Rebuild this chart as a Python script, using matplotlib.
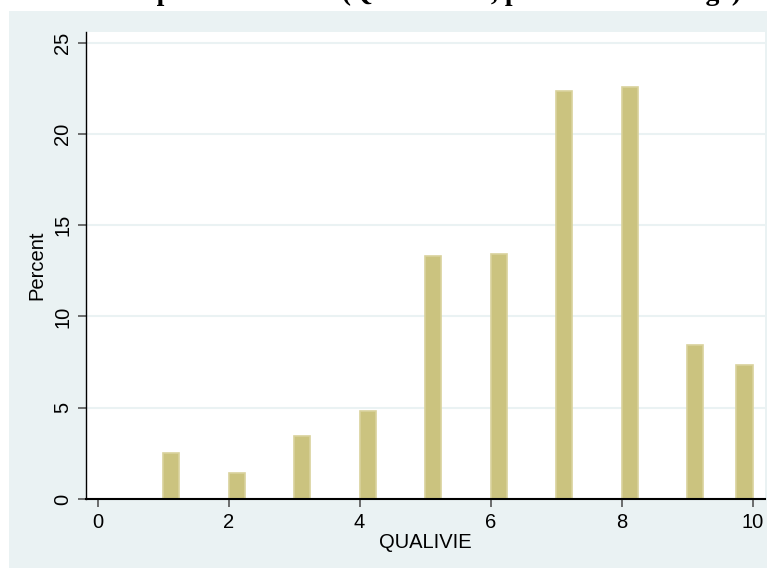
import numpy as np
import matplotlib
matplotlib.use("Agg")
import matplotlib.pyplot as plt
from matplotlib.patches import Rectangle

# QUALIVIE scores and weighted percentages
qualivie = [1, 2, 3, 4, 5, 6, 7, 8, 9, 10]
percent = [2.50, 1.43, 3.45, 4.82, 13.32, 13.43, 22.35, 22.59, 8.44, 7.35]
xticks = [0, 2, 4, 6, 8, 10]
yticks = [0, 5, 10, 15, 20, 25]

bar_fill = "#cbc37f"
bar_edge = "#d9d29c"
region_bg = "#eaf2f3"

plt.rcParams["font.family"] = ["Liberation Sans", "DejaVu Sans"]

W, H = 772, 569
fig = plt.figure(figsize=(W / 100, H / 100), dpi=100, facecolor="white")

# stata-style graph region, behind the axes
bg = Rectangle((9 / W, 1 / H), (767 - 9) / W, (568 - 11) / H,
               transform=fig.transFigure, facecolor=region_bg,
               edgecolor="none", zorder=-1)
fig.add_artist(bg)

ax = fig.add_axes([86 / W, (H - 499) / H, (765 - 86) / W, (499 - 31.7) / H])
ax.set_zorder(1)
ax.set_facecolor("white")

ax.hist(qualivie, bins=36, range=(1, 10), weights=percent,
        color=bar_fill, edgecolor=bar_edge, linewidth=1.2, zorder=3)

ax.set_xlim(-0.176, 10.19)
ax.set_ylim(0, 25.6)
ax.set_xticks(xticks)
ax.set_yticks(yticks)
ax.grid(axis="y", color=region_bg, linewidth=1.5, zorder=1)
ax.set_axisbelow(True)

for s in ["top", "right"]:
    ax.spines[s].set_visible(False)
ax.spines["left"].set_linewidth(1.0)
ax.spines["bottom"].set_linewidth(1.5)
ax.spines["left"].set_zorder(4)
ax.spines["bottom"].set_zorder(4)

ax.tick_params(axis="both", direction="out", length=6, width=1.2,
               color="#555555", labelsize=14.5, labelcolor="black")
ax.tick_params(axis="x", pad=4)
ax.tick_params(axis="y", pad=4)
for lab in ax.get_yticklabels():
    lab.set_rotation(90)
    lab.set_va("center")

ax.set_xlabel("QUALIVIE", fontsize=14.5, labelpad=1)
ax.set_ylabel("Percent", fontsize=14.5, labelpad=5)

# title sits mostly above the top of the image, as in the original
fig.text(0.5, 1.0, "Taux de répartition totale (QUALIVIE, pondéré selon l'âge)",
         ha="center", va="baseline", fontsize=20, fontweight="bold",
         family="Liberation Serif")

fig.savefig("out.png", dpi=100, facecolor="white")
